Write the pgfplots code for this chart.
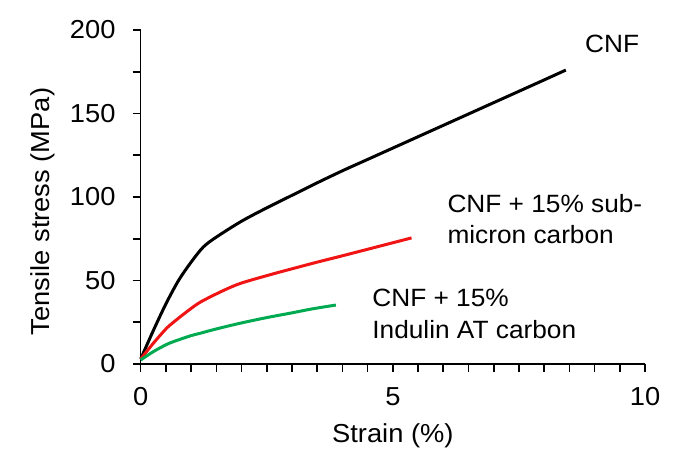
\documentclass[border=0pt]{standalone}
\usepackage{pgfplots}
\pgfplotsset{compat=1.18}
\usepackage{fontspec}
\setmainfont{Liberation Sans}[FakeStretch=1.05]

\definecolor{cnfred}{RGB}{240,20,20}
\definecolor{cnfgreen}{RGB}{0,170,80}

\begin{document}
\begin{tikzpicture}
\begin{axis}[
    scale only axis,
    width=504.3pt, height=334pt,
    xmin=0, xmax=10, ymin=0, ymax=200,
    axis x line*=bottom, axis y line*=left,
    axis line style={line width=1.6pt, black},
    xtick={0,5,10}, minor x tick num=9,
    ytick={0,50,...,200}, minor y tick num=1,
    xtick align=outside, ytick align=outside,
    major tick length=8pt, minor tick length=8pt,
    tick style={line width=1.6pt, black},
    /pgf/number format/assume math mode=true,
    tick label style={font=\fontsize{26}{31}\selectfont},
    xticklabel style={anchor=base, inner sep=0pt, yshift=-33pt},
    yticklabel style={anchor=east, inner sep=0pt, xshift=-17pt},
    xlabel={Strain (\%)},
    ylabel={Tensile stress (MPa)},
    every axis x label/.style={at={(axis description cs:0.5,-0.2356)}, anchor=base, font=\fontsize{26}{31}\selectfont},
    every axis y label/.style={at={(axis description cs:-0.18,0.4566)}, rotate=90, anchor=base, font=\fontsize{26}{31}\selectfont},
    clip=false,
]
% CNF
\addplot [black, line width=3pt, smooth] coordinates {
 (0,3) (0.25,20) (0.5,36) (0.75,50) (1.0,61) (1.24,70) (1.5,76) (2.0,85.5)
 (2.5,93.5) (3.0,101) (3.5,108.5) (4.0,115.7) (4.5,122.5) (5.0,129.3)
 (5.5,136.1) (6.0,142.9) (6.5,149.7) (7.0,156.5) (7.5,163.3) (8.0,170.1) (8.43,176)
};
% CNF + 15% sub-micron carbon
\addplot [cnfred, line width=3pt, smooth] coordinates {
 (0,3) (0.25,12.4) (0.5,21) (0.65,25) (0.9,31) (1.18,37) (1.64,44) (2.0,48.5)
 (2.63,54) (3.0,57) (3.5,61) (4.0,64.8) (4.5,68.7) (5.0,72.6) (5.37,75.5)
};
% CNF + 15% Indulin AT carbon
\addplot [cnfgreen, line width=3pt, smooth] coordinates {
 (0,2.4) (0.25,7.4) (0.5,11.5) (0.65,13.4) (1.0,17) (1.18,18.4) (1.5,21)
 (1.97,24.4) (2.5,27.8) (2.96,30.4) (3.4,33) (3.87,35.3)
};

\node [anchor=base west, inner sep=0pt, font=\fontsize{25}{30}\selectfont] at (axis cs:8.81,186.8) {CNF};
\node [anchor=base west, inner sep=0pt, font=\fontsize{25}{30}\selectfont] at (axis cs:6.08,90.8) {CNF + 15\% sub-};
\node [anchor=base west, inner sep=0pt, font=\fontsize{25}{30}\selectfont] at (axis cs:6.08,71.9) {micron carbon};
\node [anchor=base west, inner sep=0pt, font=\fontsize{25}{30}\selectfont] at (axis cs:4.59,34.3) {CNF + 15\%};
\node [anchor=base west, inner sep=0pt, font=\fontsize{25}{30}\selectfont] at (axis cs:4.59,15.4) {Indulin AT carbon};
\end{axis}
\pgfresetboundingbox
\path (-140.7pt,-102pt) rectangle (536.3pt,364pt);
\end{tikzpicture}
\end{document}
